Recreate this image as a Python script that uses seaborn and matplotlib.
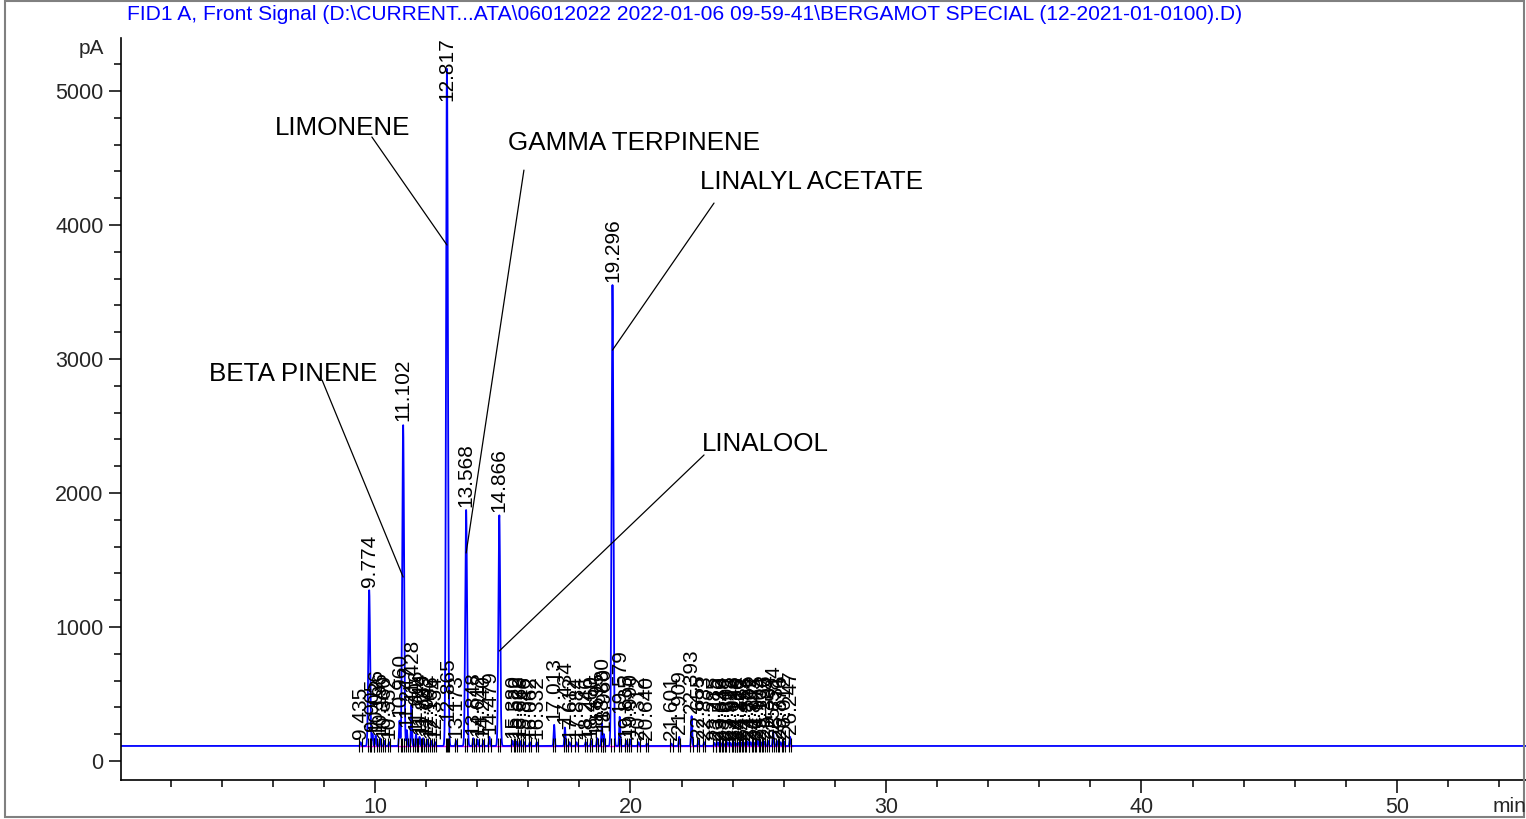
import numpy as np
import pandas as pd
import seaborn as sns
import matplotlib.pyplot as plt
from matplotlib.patches import Rectangle
from matplotlib.ticker import MultipleLocator

# retention time (min) and apex signal (pA) of every integrated peak
peak_rt = [9.435, 9.774, 9.905, 10.026, 10.196, 10.360, 10.552, 10.960, 11.102,
           11.247, 11.428, 11.606, 11.744, 11.889, 12.042, 12.196, 12.354,
           12.817, 12.865, 13.173, 13.568, 13.848, 14.012, 14.240, 14.479,
           14.866, 15.380, 15.522, 15.669, 15.846, 16.062, 16.332, 17.013,
           17.434, 17.612, 17.884, 18.246, 18.460, 18.695, 18.880, 18.960,
           19.296, 19.579, 19.835, 19.990, 20.312, 20.640, 21.601, 21.909,
           22.393, 22.655, 22.883, 23.285, 23.412, 23.530, 23.648, 23.803,
           23.912, 24.046, 24.138, 24.226, 24.312, 24.453, 24.586, 24.702,
           24.843, 24.975, 25.104, 25.236, 25.384, 25.584, 25.731, 25.876,
           26.012, 26.247]
peak_height = [140, 1276, 200, 190, 170, 150, 140, 300, 2510,
               230, 420, 200, 180, 170, 160, 150, 140,
               5160, 270, 150, 1873, 170, 160, 150, 180,
               1836, 150, 145, 150, 140, 140, 140, 270,
               250, 140, 140, 140, 150, 170, 280, 200,
               3552, 330, 150, 160, 140, 130, 130, 180,
               335, 150, 140, 135, 140, 135, 130, 140,
               135, 140, 130, 135, 140, 135, 145, 140,
               135, 150, 140, 145, 150, 215, 150, 140,
               145, 180]
baseline_pa = 112

# named compounds: peak they belong to and point on the peak the leader reaches
compound_name = ['LIMONENE', 'GAMMA TERPINENE', 'LINALYL ACETATE', 'BETA PINENE', 'LINALOOL']
compound_rt = [12.817, 13.568, 19.296, 11.102, 14.866]
compound_level = [3851, 1552, 3067, 1373, 821]

title = ('FID1 A, Front Signal (D:\\CURRENT...ATA\\06012022 2022-01-06 09-59-41'
         '\\BERGAMOT SPECIAL (12-2021-01-0100).D)')

# text anchor (left, centre) and leader start, in data units
name_pos = [(6.09, 4724), (15.21, 4612), (22.72, 4321), (3.50, 2888), (22.80, 2366)]
leader_start = [(9.88, 4657), (15.83, 4410), (23.27, 4164), (7.93, 2843), (22.88, 2284)]

sns.set_theme(style='white')
plt.rcParams['font.family'] = ['Liberation Sans', 'DejaVu Sans']

t = np.arange(0.06, 55.05, 0.004)
signal = np.full_like(t, float(baseline_pa))
for rt, h in zip(peak_rt, peak_height):
    s = 0.035 if h > 1000 else 0.02
    signal += (h - baseline_pa) * np.exp(-0.5 * ((t - rt) / s) ** 2)
trace = pd.DataFrame({'min': t, 'pA': signal})

fig = plt.figure(figsize=(15.26, 8.19), dpi=100)
ax = fig.add_axes([121 / 1526, 1 - 780 / 819, 1 - 121 / 1526, (780 - 38) / 819])

# baseline segments under the integrated region
ax.hlines(baseline_pa, peak_rt[0] - 0.1, peak_rt[-1] + 0.1, color='#ff00ff', lw=1, zorder=1)

sns.lineplot(data=trace, x='min', y='pA', ax=ax, color='#0000ff', lw=1.3,
             estimator=None, sort=False, zorder=2)

# integration marks under the baseline
marks = np.concatenate([np.array(peak_rt) - 0.045, np.array(peak_rt) + 0.045])
ax.vlines(marks, 65, 170, color='black', lw=0.8, zorder=3)

ymax = 5396
for rt, h in zip(peak_rt, peak_height):
    y = min(h + 25, ymax - 470)
    ax.text(rt, y, f'{rt:.3f}', rotation=90, ha='center', va='bottom',
            fontsize=15, color='black', zorder=4)

for name, rt, lvl, (tx, ty), (sx, sy) in zip(compound_name, compound_rt, compound_level,
                                              name_pos, leader_start):
    ax.annotate('', xy=(rt, lvl), xytext=(sx, sy),
                arrowprops=dict(arrowstyle='-', color='black', lw=0.9,
                                shrinkA=0, shrinkB=0))
    ax.text(tx, ty, name, ha='left', va='center', fontsize=18.7, color='black')

ax.set_xlim(0.06, 55.05)
ax.set_ylim(-142, ymax)
ax.set_xlabel('')
ax.set_ylabel('')
for side in ['top', 'right']:
    ax.spines[side].set_visible(False)
for side in ['left', 'bottom']:
    ax.spines[side].set_color('black')
    ax.spines[side].set_linewidth(1.2)
ax.xaxis.set_major_locator(MultipleLocator(10))
ax.xaxis.set_minor_locator(MultipleLocator(2))
ax.yaxis.set_major_locator(MultipleLocator(1000))
ax.yaxis.set_minor_locator(MultipleLocator(200))
ax.tick_params(which='major', direction='out', length=9, width=1.1, color='black',
               labelsize=15.5, bottom=True, left=True)
ax.tick_params(which='minor', direction='out', length=5, width=1.1, color='black',
               bottom=True, left=True)
ax.grid(False)

fig.text(91 / 1526, 1 - 48 / 819, 'pA', ha='center', va='center', fontsize=15)
fig.text(1510 / 1526, 1 - 806 / 819, 'min', ha='center', va='center', fontsize=15)
fig.text(127 / 1526, 1 - 14 / 819, title, ha='left', va='center', fontsize=15.1,
         color='#0000ff')
fig.patches.append(Rectangle((5 / 1526, 2 / 819), 1519 / 1526, 816 / 819,
                             transform=fig.transFigure, fill=False,
                             edgecolor='#808080', lw=1.5))

fig.savefig('out.png', dpi=100)
